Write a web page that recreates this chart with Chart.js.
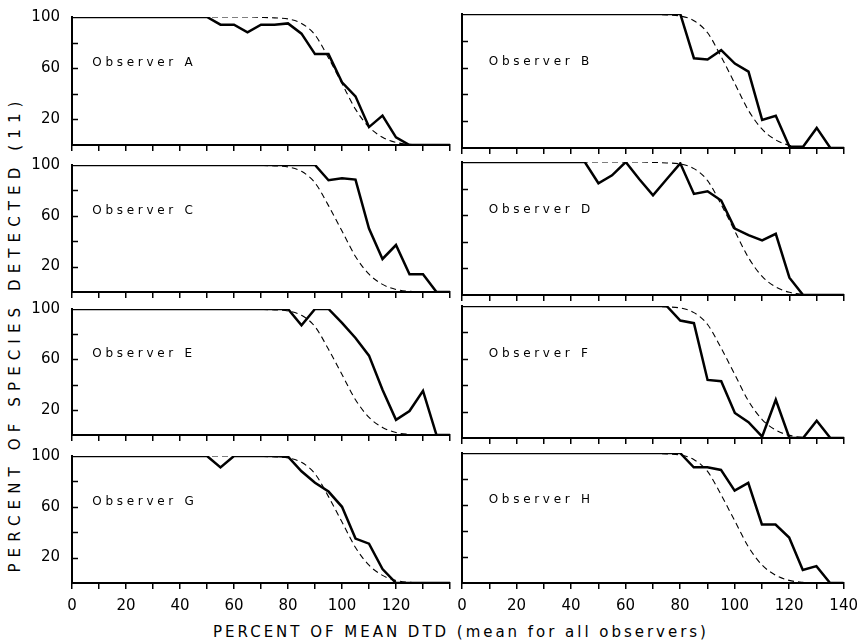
<!DOCTYPE html>
<html><head><meta charset="utf-8">
<script src="https://cdn.jsdelivr.net/npm/chart.js@4.4.1/dist/chart.umd.min.js"></script>
<style>
html,body{margin:0;padding:0;background:#fff;overflow:hidden;width:868px;height:644px}
#wrap{position:relative;width:868px;height:644px;background:#fff}
canvas{position:absolute}
.title{position:absolute;font-family:"DejaVu Sans";font-size:15px;color:#000;white-space:nowrap;line-height:1}
</style></head><body>
<div id="wrap">
<div id="xtitle" class="title">PERCENT OF MEAN DTD (mean for all observers)</div>
<div id="ytitle" class="title">PERCENT OF SPECIES DETECTED (11)</div>
</div>
<script>
// ---- data ----
const xValues = [0,5,10,15,20,25,30,35,40,45,50,55,60,65,70,75,80,85,90,95,100,105,110,115,120,125,130,135,140];
const meanCurve = [100,100,100,100,100,100,100,100,100,100,100,100,100,100,99.7,99.3,98.5,95,86,68,48,28,14,6,2,0.5,0.1,null,null];
const obsA = [100,100,100,100,100,100,100,100,100,100,100,94,94,88,94,94,95,87,71,71,49,38,14,23,6,0,0,0,0];
const obsB = [100,100,100,100,100,100,100,100,100,100,100,100,100,100,100,100,100,67,66,73,63,57,21,24,1,1,15,0,0];
const obsC = [100,100,100,100,100,100,100,100,100,100,100,100,100,100,100,100,100,100,100,88,89.5,88.5,50,26,37,14,14,0,0];
const obsD = [100,100,100,100,100,100,100,100,100,100,84,90,100,87,75,87,99,76,78,71,50,45,41,46,13,0,0,0,0];
const obsE = [100,100,100,100,100,100,100,100,100,100,100,100,100,100,100,100,100,87,100,100,89,77,63,36,12,19,35,0,0];
const obsF = [100,100,100,100,100,100,100,100,100,100,100,100,100,100,100,100,89,87,44,43,19,12,1,29,0,0,13,0,0];
const obsG = [100,100,100,100,100,100,100,100,100,100,100,91,100,100,100,100,99.5,88,79,72,60,35,31,11,0,0,0,0,0];
const obsH = [100,100,100,100,100,100,100,100,100,100,100,100,100,100,100,100,100,89,89,87,71,77,45,45,35,10,13,0,0];
const observerNames = ['Observer A','Observer B','Observer C','Observer D','Observer E','Observer F','Observer G','Observer H'];
const observerSeries = [obsA,obsB,obsC,obsD,obsE,obsF,obsG,obsH];
const yTickLabels = [100,60,20];
const xTickLabels = [0,20,40,60,80,100,120,140];

// ---- layout ----
const rows = [[14,148],[162,295],[306,438],[453,583]];
const cols = [{canvasLeft:0,width:460,yW:72,padR:10,labelX:7.5},{canvasLeft:442,width:424,yW:20,padR:22,labelX:9.8}];

Chart.defaults.font.family = '"DejaVu Sans"';
Chart.defaults.color = '#000';

const panelDeco = {
  id:'panelDeco',
  afterDatasetsDraw(chart, args, opts){
    const {ctx, chartArea, scales:{x,y}} = chart;
    ctx.save();
    ctx.strokeStyle = '#000'; ctx.lineWidth = 1.5;
    [20,40,60,80].forEach(v=>{
      const py = Math.round(y.getPixelForValue(v))+0.5;
      ctx.beginPath(); ctx.moveTo(chartArea.left, py); ctx.lineTo(chartArea.left+6, py); ctx.stroke();
    });
    ctx.font = '12px "DejaVu Sans"';
    ctx.letterSpacing = '3.7px';
    ctx.fillStyle = '#000'; ctx.textBaseline = 'middle'; ctx.textAlign = 'left';
    ctx.fillText(opts.text, x.getPixelForValue(opts.lx), y.getPixelForValue(opts.ly));
    ctx.restore();
  }
};

const wrap = document.getElementById('wrap');
observerSeries.forEach((series, i)=>{
  const r = Math.floor(i/2), c = i%2;
  const [T,B] = rows[r];
  const col = cols[c];
  const bottomRow = r === 3;
  const xH = bottomRow ? 40 : 8;
  const padTop = 10, padBottom = 2;
  const h = padTop + (B-T) + xH + padBottom;
  const cv = document.createElement('canvas');
  cv.width = col.width; cv.height = h;
  cv.style.left = col.canvasLeft+'px'; cv.style.top = (T-padTop)+'px';
  cv.style.width = col.width+'px'; cv.style.height = h+'px';
  wrap.appendChild(cv);
  new Chart(cv, {
    type:'line',
    data:{datasets:[
      {data: xValues.map((x,k)=>({x, y: series[k]})), borderColor:'#000', borderWidth:2.5, pointRadius:0, tension:0, fill:false},
      {data: xValues.map((x,k)=>({x, y: meanCurve[k]})), borderColor:'#000', borderWidth:1.1, borderDash:[6,4], pointRadius:0, cubicInterpolationMode:'monotone', fill:false, spanGaps:false}
    ]},
    options:{
      responsive:false, animation:false, devicePixelRatio:1,
      layout:{padding:{top:padTop,left:0,right:col.padR,bottom:padBottom}},
      plugins:{legend:{display:false}, tooltip:{enabled:false}, panelDeco:{text:observerNames[i], lx:col.labelX, ly:64}},
      scales:{
        x:{type:'linear', min:0, max:140,
          grid:{display:true, drawOnChartArea:false, drawTicks:true, tickLength:6, color:'#000', lineWidth:1.5},
          border:{display:true, color:'#000', width:2},
          ticks:{display:bottomRow, stepSize:10, autoSkip:false, maxRotation:0, padding:8,
            font:{size:15}, color:'#000',
            callback:(v)=> (xTickLabels.includes(v) && !(c===0 && v===140)) ? String(v) : ''},
          afterFit:(s)=>{ s.height = xH; }
        },
        y:{type:'linear', min:0, max:100,
          grid:{display:false},
          border:{display:true, color:'#000', width:2},
          ticks:{display:c===0, stepSize:20, autoSkip:false, padding:4, font:{size:15}, color:'#000',
            callback:(v)=> yTickLabels.includes(v) ? String(v) : ''},
          afterFit:(s)=>{ s.width = col.yW; }
        }
      }
    },
    plugins:[panelDeco]
  });
});

function fitText(el, target){
  el.style.letterSpacing = '0px';
  const w = el.offsetWidth;
  const n = el.textContent.length;
  el.style.letterSpacing = ((target - w)/n) + 'px';
}
const xt = document.getElementById('xtitle');
const yt = document.getElementById('ytitle');
fitText(xt, 496); fitText(yt, 477);
xt.style.left = '461px'; xt.style.top = '632px'; xt.style.transform = 'translate(-50%,-50%)';
yt.style.left = '15px'; yt.style.top = '334px'; yt.style.transform = 'translate(-50%,-50%) rotate(-90deg)';
</script>
</body></html>
